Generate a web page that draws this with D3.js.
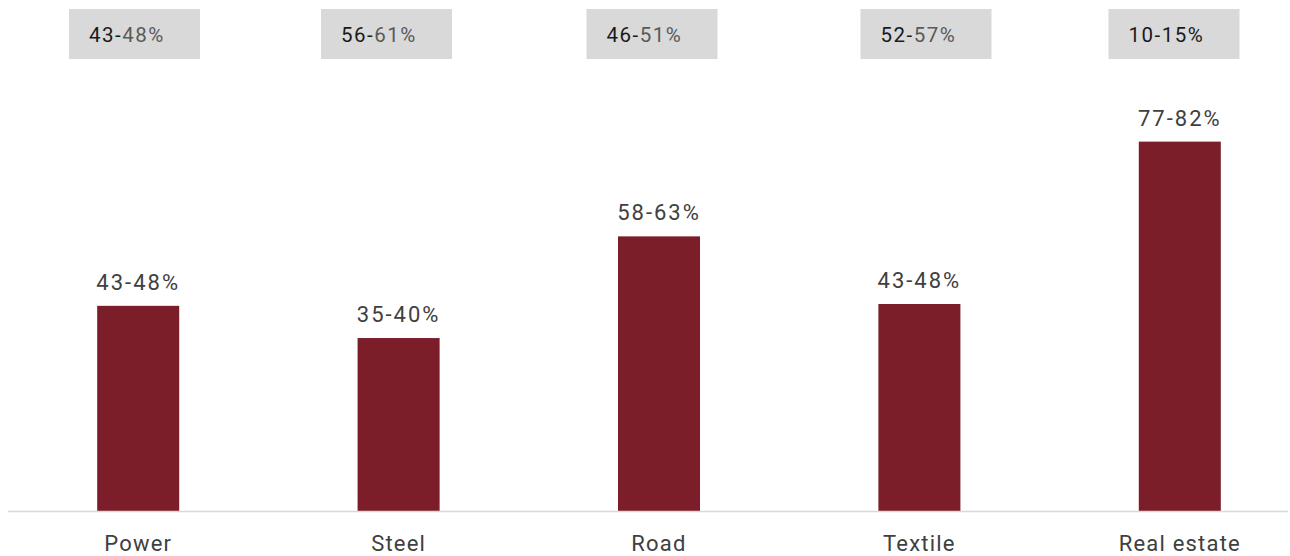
<!DOCTYPE html>
<html>
<head>
<meta charset="utf-8">
<script src="https://cdn.jsdelivr.net/npm/d3@7"></script>
<style>
  html, body { margin: 0; padding: 0; background: #ffffff; }
  svg { display: block; font-family: Roboto, "Noto Sans", sans-serif; }
</style>
</head>
<body>
<svg id="chart" width="1290" height="556"></svg>
<script>
// Sectors shown along the x axis
const categories = ["Power", "Steel", "Road", "Textile", "Real estate"];

// Bar heights (percent) and the ranges printed above each bar
const barValues = [44.6, 37.6, 59.7, 45.0, 80.3];
const barLow = [43, 35, 58, 43, 77];
const barHigh = [48, 40, 63, 48, 82];

// Ranges shown in the grey boxes along the top
const boxLow = [43, 56, 46, 52, 10];
const boxHigh = [48, 61, 51, 57, 15];
// whether the upper bound in the box is printed in the lighter grey
const boxHighMuted = [true, true, true, true, false];

const baseY = 511;

const svg = d3.select("#chart");

const x = d3.scaleBand()
  .domain(categories)
  .range([8, 1310])
  .paddingInner(0.685)
  .paddingOuter(0.3425);

const y = d3.scaleLinear()
  .domain([0, 100])
  .range([baseY, 51]);

const rows = categories.map((c, i) => ({
  cat: c, v: barValues[i], lo: barLow[i], hi: barHigh[i],
  blo: boxLow[i], bhi: boxHigh[i], muted: boxHighMuted[i]
}));

// Bars
svg.append("g").selectAll("rect")
  .data(rows)
  .join("rect")
  .attr("x", d => x(d.cat))
  .attr("y", d => y(d.v))
  .attr("width", x.bandwidth())
  .attr("height", d => y(0) - y(d.v))
  .attr("fill", "#7b1e2a");

// Range labels above bars
svg.append("g").selectAll("text")
  .data(rows)
  .join("text")
  .attr("x", d => x(d.cat) + x.bandwidth() / 2)
  .attr("y", d => y(d.v) - 16)
  .attr("text-anchor", "middle")
  .attr("font-size", 22)
  .attr("letter-spacing", 2)
  .attr("fill", "#404040")
  .text(d => `${d.lo}-${d.hi}%`);

// Baseline
svg.append("line")
  .attr("x1", 8).attr("x2", 1288)
  .attr("y1", baseY + 0.5).attr("y2", baseY + 0.5)
  .attr("stroke", "#d9d9d9")
  .attr("stroke-width", 1.5);

// Category axis (labels only)
const xAxis = d3.axisBottom(x).tickSize(0).tickPadding(0);
const axisG = svg.append("g")
  .attr("transform", `translate(0,${baseY})`)
  .call(xAxis);
axisG.select(".domain").remove();
axisG.selectAll("text")
  .attr("dy", null)
  .attr("y", 40)
  .attr("font-family", "Roboto, 'Noto Sans', sans-serif")
  .attr("font-size", 22)
  .attr("letter-spacing", 1.2)
  .attr("fill", "#404040");

// Grey boxes along the top
const boxNudge = [-3.7, -12.1, -7, 6.6, -5.8];
const boxW = 131, boxH = 50;
const boxes = svg.append("g").selectAll("g")
  .data(rows)
  .join("g")
  .attr("transform", (d, i) => `translate(${x(d.cat) + x.bandwidth() / 2 + boxNudge[i] - boxW / 2},9)`);

boxes.append("rect")
  .attr("width", boxW)
  .attr("height", boxH)
  .attr("fill", "#d9d9d9");

const bt = boxes.append("text")
  .attr("x", 20)
  .attr("y", 33)
  .attr("font-size", 20.5)
  .attr("letter-spacing", 1.5);
bt.append("tspan").attr("fill", "#1a1a1a").text(d => `${d.blo}-`);
bt.append("tspan").attr("fill", d => d.muted ? "#595959" : "#1a1a1a").text(d => `${d.bhi}%`);
</script>
</body>
</html>
